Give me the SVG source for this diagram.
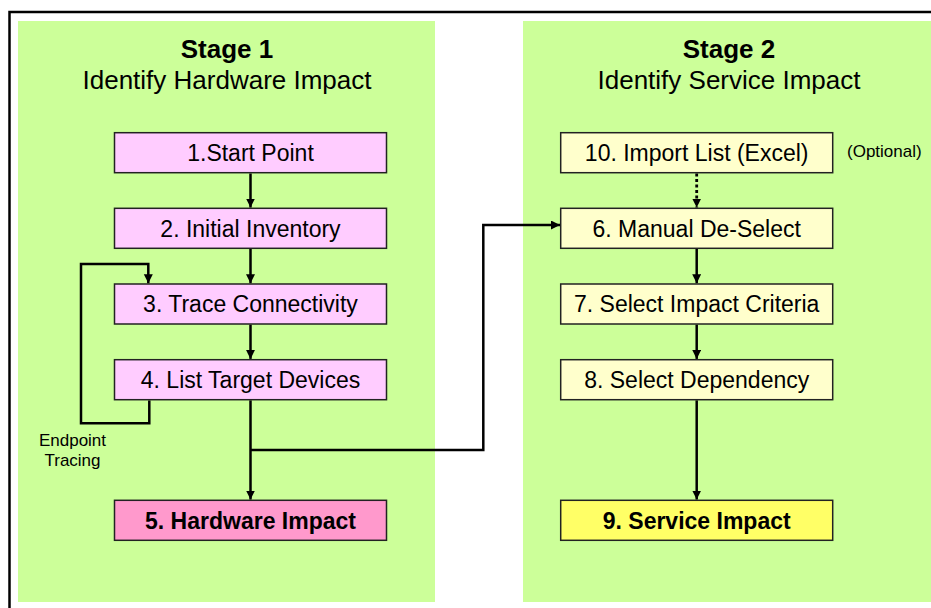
<svg xmlns="http://www.w3.org/2000/svg" width="931" height="608" viewBox="0 0 931 608">
<defs>
<style>
text{font-family:"Liberation Sans",Arial,sans-serif;fill:#000;text-anchor:middle}
.title{font-size:26px}
.bold{font-weight:bold}
.node{font-size:23px}
.small{font-size:17px}
.panel{fill:#CCFF99}
.box{stroke:#222;stroke-width:1.5}
.pink{fill:#FFCCFF}
.pinkd{fill:#FF99CC}
.yel{fill:#FFFFCC}
.yeld{fill:#FFFF66}
.conn{fill:none;stroke:#000;stroke-width:2.5}
.dot{stroke-width:2.8;stroke-dasharray:3 2.5}
</style>
<marker id="ah" markerUnits="userSpaceOnUse" markerWidth="10" markerHeight="10" refX="9" refY="4.5" orient="auto">
<path d="M0,0 L9,4.5 L0,9 Z" fill="#000"/>
</marker>
</defs>
<rect width="931" height="608" fill="#fff"/>
<path d="M9.5,608 V12 H931" fill="none" stroke="#000" stroke-width="2.5"/>
<g id="stage1">
<rect class="panel" x="18" y="21" width="417" height="581"/>
<text class="title bold" x="227" y="58">Stage 1</text>
<text class="title" x="227" y="89">Identify Hardware Impact</text>
</g>
<g id="stage2">
<rect class="panel" x="523" y="21" width="412" height="581"/>
<text class="title bold" x="729" y="58">Stage 2</text>
<text class="title" x="729" y="89">Identify Service Impact</text>
</g>
<g id="n1"><rect class="box pink" x="114.5" y="132.7" width="272" height="40"/><text class="node" x="250.5" y="161">1.Start Point</text></g>
<g id="n2"><rect class="box pink" x="114.5" y="208.3" width="272" height="40"/><text class="node" x="250.5" y="236.6">2. Initial Inventory</text></g>
<g id="n3"><rect class="box pink" x="114.5" y="284" width="272" height="40"/><text class="node" x="250.5" y="312.3">3. Trace Connectivity</text></g>
<g id="n4"><rect class="box pink" x="114.5" y="359.7" width="272" height="40"/><text class="node" x="250.5" y="388">4. List Target Devices</text></g>
<g id="n5"><rect class="box pinkd" x="114.5" y="500.3" width="272" height="40"/><text class="node bold" x="250.5" y="528.6">5. Hardware Impact</text></g>
<g id="n10"><rect class="box yel" x="560.7" y="132.7" width="272" height="40"/><text class="node" x="696.7" y="161">10. Import List (Excel)</text></g>
<g id="n6"><rect class="box yel" x="560.7" y="208.3" width="272" height="40"/><text class="node" x="696.7" y="236.6">6. Manual De-Select</text></g>
<g id="n7"><rect class="box yel" x="560.7" y="284" width="272" height="40"/><text class="node" x="696.7" y="312.3">7. Select Impact Criteria</text></g>
<g id="n8"><rect class="box yel" x="560.7" y="359.7" width="272" height="40"/><text class="node" x="696.7" y="388">8. Select Dependency</text></g>
<g id="n9"><rect class="box yeld" x="560.7" y="500.3" width="272" height="40"/><text class="node bold" x="696.7" y="528.6">9. Service Impact</text></g>
<g id="labels">
<text class="small" x="72.5" y="445.5">Endpoint</text>
<text class="small" x="72.5" y="465.5">Tracing</text>
<text class="small" x="847" y="157" style="text-anchor:start">(Optional)</text>
</g>
<g id="connectors">
<path class="conn" d="M250.5,173.5 V207.5" marker-end="url(#ah)"/>
<path class="conn" d="M250.5,249 V283.2" marker-end="url(#ah)"/>
<path class="conn" d="M250.5,324.7 V358.9" marker-end="url(#ah)"/>
<path class="conn" d="M250.5,400.4 V499.5" marker-end="url(#ah)"/>
<path class="conn" d="M149.3,400.4 V423.3 H81 V264 H148.3 V283.2" marker-end="url(#ah)"/>
<path class="conn" d="M250.5,450 H483.3 V225 H560" marker-end="url(#ah)"/>
<path class="conn dot" d="M696.7,173.5 V207.5" marker-end="url(#ah)"/>
<path class="conn" d="M696.7,249 V283.2" marker-end="url(#ah)"/>
<path class="conn" d="M696.7,324.7 V358.9" marker-end="url(#ah)"/>
<path class="conn" d="M696.7,400.4 V499.5" marker-end="url(#ah)"/>
</g>
</svg>
